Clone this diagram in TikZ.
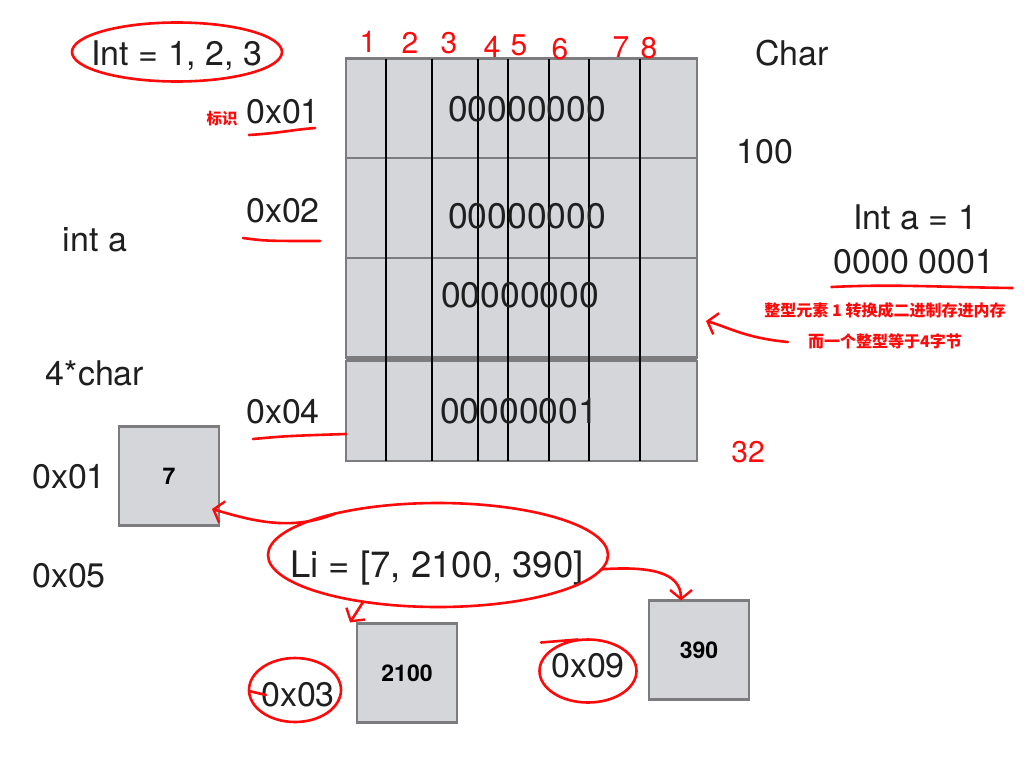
\documentclass[tikz,border=0pt]{standalone}
\usepackage{fontspec}
\setmainfont{TeX Gyre Heros}
\newfontfamily\cjk{Noto Sans CJK SC}
\usetikzlibrary{shapes.geometric,arrows.meta,calc}
\definecolor{cellgray}{HTML}{D5D6DA}
\definecolor{edgegray}{HTML}{7C7C7E}
\definecolor{inkred}{HTML}{FF0A0A}
\tikzset{
  lbl/.style={font=\fontsize{34}{40}\selectfont, inner sep=0pt, anchor=base, text=black!88},
  rowbox/.style={fill=cellgray, draw=edgegray, line width=2pt, inner sep=0pt, outer sep=0pt,
                 minimum width=351, minimum height=100},
  colline/.style={draw=black, line width=2pt},
  membox/.style={fill=cellgray, draw=edgegray, line width=2.2pt, inner sep=0pt, outer sep=0pt,
                 minimum width=100, minimum height=99,
                 font=\fontsize{23}{26}\selectfont\bfseries},
  hand/.style={text=inkred, inner sep=0pt, font=\fontsize{30}{32}\selectfont},
  redline/.style={draw=inkred, line width=2.6pt, line cap=round},
  redarrow/.style={redline, -{Straight Barb[length=9pt,width=22pt,line width=2.4pt]}},
  ring/.style={ellipse, draw=inkred, line width=2.6pt, inner sep=0pt, outer sep=0pt},
  cnote/.style={text=inkred, inner sep=0pt, font=\cjk\bfseries\fontsize{16}{18}\selectfont}
}
\begin{document}
\begin{tikzpicture}[x=1pt,y=-1pt]
\useasboundingbox (0,0) rectangle (1024,768);
\fill[white] (0,0) rectangle (1024,768);

% memory grid
\node[rowbox] (r1) at (521.5,108.5) {};
\node[rowbox] (r2) at (521.5,208) {};
\node[rowbox] (r3) at (521.5,308) {};
\node[rowbox] (r4) at (521.5,410.5) {};
\draw[edgegray, line width=4pt] (r3.south west) -- (r3.south east);
\foreach \dx in {40,86,132,162,203,243,294}
  \draw[colline] ($(r1.north west)+(\dx,0)$) -- ($(r4.south west)+(\dx,0)$);

\node[lbl, font=\fontsize{35.5}{40}\selectfont] (z1) at (527,121) {00000000};
\node[lbl, font=\fontsize{35.5}{40}\selectfont] (z2) at (527,228) {00000000};
\node[lbl, font=\fontsize{35.5}{40}\selectfont] (z3) at (520,307) {00000000};
\node[lbl, font=\fontsize{35.5}{40}\selectfont] (z4) at (519,423) {00000001};

% bit numbers
\node[hand] (n1) at (368,42) {1};
\node[hand] (n2) at (410,43) {2};
\node[hand] (n3) at (449,43) {3};
\node[hand] (n4) at (492,47) {4};
\node[hand] (n5) at (519,45) {5};
\node[hand] (n6) at (560,49) {6};
\node[hand] (n7) at (621,47) {7};
\node[hand] (n8) at (649,48) {8};
\node[hand] (n32) at (748,452) {32};

% left labels
\node[lbl] (intlist) at (177,65) {Int = 1, 2, 3};
\node[ring, minimum width=210, minimum height=59] (intring) at (177,52) {};
\node[lbl] (a01) at (283,123) {0x01};
\node[cnote, font=\cjk\bfseries\fontsize{15.5}{17}\selectfont] (mark) at (222,119) {标识};
\draw[redline] ($(a01.base west)+(3,12)$) .. controls ($(a01.base west)+(35,10)$) and ($(a01.base east)+(-30,7)$) .. ($(a01.base east)+(-5,5)$);
\node[lbl] (a02) at (283,222) {0x02};
\draw[redline] ($(a02.base west)+(-3,16)$) .. controls ($(a02.base west)+(20,19)$) .. ($(a02.base east)+(0,19)$);
\node[lbl] (inta) at (95,251) {int a};
\node[lbl] (fourchar) at (95,385) {4*char};
\node[lbl] (a04) at (283,423) {0x04};
\draw[redline] ($(a04.base west)+(7,16)$) .. controls ($(a04.base west)+(40,13)$) .. (r4.west |- 0,434);
\node[lbl] (l01) at (69,488) {0x01};
\node[lbl] (l05) at (69,587) {0x05};

% right labels
\node[lbl] (char) at (792,65) {Char};
\node[lbl] (hund) at (765,163) {100};
\node[lbl] (intaeq) at (915,229) {Int a = 1};
\node[lbl] (bin) at (914,273) {0000 0001};
\draw[redline] ($(bin.base west)+(-2,14)$) .. controls ($(bin.base west)+(60,11)$) and ($(bin.base east)+(-60,14)$) .. ($(bin.base east)+(18,15)$);
\node[cnote] (cn1) at (885,310) {整型元素 1 转换成二进制存进内存};
\node[cnote] (cn2) at (885,341) {而一个整型等于4字节};
\coordinate (cntip) at ($(r3.east)+(9,13)$);
\draw[redarrow] ($(cn2.west)+(-20,1)$) .. controls (745,338) and (728,327) .. (cntip);

% list and boxes
\node[membox] (b7) at (169,476) {7};
\node[membox] (b2100) at (407,673) {2100};
\node[membox] (b390) at (699,650) {390};

\node[lbl, font=\fontsize{36.5}{40}\selectfont] (li) at (437,577) {Li = [7, 2100, 390]};
\node[ring, minimum width=340, minimum height=104] (lir) at (438,555) {};

\draw[redarrow] (lir.158) .. controls (290,532) and (250,520) .. ($(b7.east)+(-7,33)$);
\draw[redarrow] (lir.-5) .. controls (650,566) and (681,572) .. ($(b390.north)+(-18,0)$);
\draw[redarrow] (lir.212) -- ($(b2100.north west)+(-7,-1)$);

\node[lbl] (a03) at (298,706) {0x03};
\node[ring, minimum width=92, minimum height=64] (r03) at (295,690) {};
\draw[redline] ($(r03.west)+(0,1)$) -- ($(r03.west)+(17,5)$);
\node[lbl] (a09) at (588,677) {0x09};
\node[ring, minimum width=97, minimum height=63] (r09) at (588,671) {};
\draw[redline] ($(r09.north)+(-47,3)$) -- ($(r09.north)+(-10,0)$);
\end{tikzpicture}
\end{document}
